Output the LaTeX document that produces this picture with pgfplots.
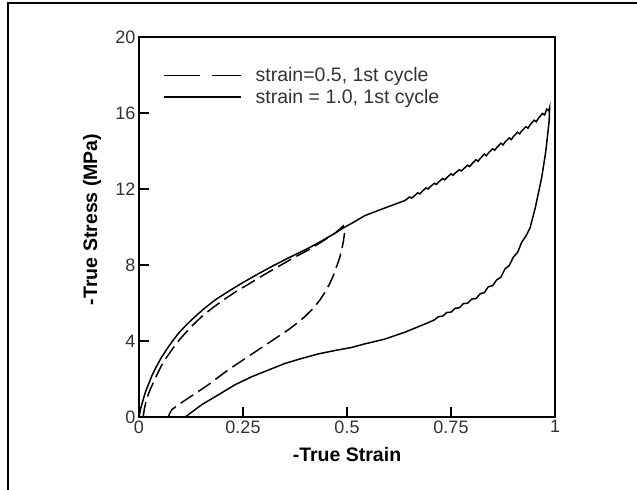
\documentclass[border=0pt]{standalone}
\usepackage{pgfplots}
\pgfplotsset{compat=1.18}
\usepackage{fontspec}
\setmainfont{Liberation Sans}
\begin{document}
\begin{tikzpicture}
\path[use as bounding box] (0,0) rectangle (637bp,490bp);
\draw[line width=2bp] (7.5bp,0) -- (7.5bp,487bp) -- (637bp,487bp);
\begin{axis}[
  at={(139bp,73bp)}, anchor=south west,
  scale only axis, width=416bp, height=380bp,
  xmin=0, xmax=1, ymin=0, ymax=20,
  xtick={0,0.25,0.5,0.75,1}, xticklabels={0,0.25,0.5,0.75,1},
  ytick={0,4,8,12,16,20},
  xtick pos=bottom, ytick pos=left,
  tick align=inside, major tick length=10bp,
  axis line style={line width=1.8bp},
  every tick/.style={line width=1.6bp, black},
  /pgf/number format/assume math mode=true,
  tick label style={font=\fontsize{18bp}{20bp}\selectfont, text=black!80},
  xlabel={\bfseries -True Strain},
  ylabel={\bfseries -True Stress (MPa)},
  label style={font=\fontsize{19.5bp}{22bp}\selectfont},
  xlabel style={at={(axis description cs:0.5,-0.1)}, anchor=center},
  ylabel style={at={(axis description cs:-0.113,0.52)}, anchor=center, rotate=0},
  legend style={at={(0.058,0.925)}, anchor=north west, draw=none, fill=none,
    font=\fontsize{19.5bp}{21bp}\selectfont, text=black!80, row sep=2bp,
    column sep=12bp, inner sep=0pt, outer sep=0pt},
  legend cell align=left,
  clip=false,
]
\addplot[black, line width=1.5bp, dash pattern=on 15bp off 6bp,
  legend image code/.code={\draw[black, line width=1.5bp, dash pattern=on 36bp off 12bp] (0bp,0bp) -- (77bp,0bp);}]
  coordinates {
(0.010,0.00) (0.013,0.45) (0.018,0.91) (0.025,1.35) (0.034,1.79) (0.043,2.22)
(0.053,2.66) (0.065,3.10) (0.079,3.54) (0.094,3.98) (0.111,4.41) (0.130,4.85)
(0.151,5.29) (0.176,5.73) (0.203,6.16) (0.233,6.60) (0.267,7.04) (0.300,7.48)
(0.335,7.92) (0.370,8.36) (0.407,8.79) (0.440,9.23) (0.471,9.67) (0.491,10.05)
(0.494,9.67) (0.491,9.20) (0.487,8.79) (0.482,8.35) (0.475,7.92) (0.468,7.48)
(0.459,7.04) (0.448,6.60) (0.435,6.16) (0.419,5.72) (0.399,5.29) (0.380,4.94)
(0.359,4.59) (0.335,4.24) (0.311,3.89) (0.287,3.54) (0.263,3.19) (0.239,2.84)
(0.215,2.49) (0.191,2.10) (0.167,1.70) (0.143,1.35) (0.119,1.00) (0.097,0.68)
(0.079,0.39) (0.073,0.15) (0.071,0.00)
};
\addlegendentry{strain=0.5, 1st cycle}
\addplot[black, line width=1.5bp,
  legend image code/.code={\draw[black, line width=1.5bp] (0bp,0bp) -- (77bp,0bp);}]
  coordinates {
(0.000,0.00) (0.004,0.45) (0.010,0.91) (0.016,1.35) (0.024,1.79) (0.032,2.22)
(0.042,2.66) (0.053,3.10) (0.066,3.54) (0.080,3.98) (0.095,4.41) (0.114,4.85)
(0.135,5.29) (0.158,5.73) (0.183,6.16) (0.214,6.60) (0.247,7.04) (0.282,7.48)
(0.319,7.92) (0.358,8.36) (0.399,8.79) (0.436,9.23) (0.471,9.67) (0.491,9.95)
(0.511,10.19) (0.543,10.60) (0.591,11.00) (0.640,11.40)
(0.65,11.58) (0.655,11.52) (0.66,11.60) (0.67,11.80) (0.675,11.74) (0.68,11.86)
(0.69,12.06) (0.695,12.00) (0.70,12.12) (0.71,12.30) (0.715,12.24) (0.72,12.36)
(0.73,12.55) (0.735,12.48) (0.74,12.60) (0.75,12.80) (0.755,12.72) (0.76,12.84)
(0.77,13.01) (0.775,12.95) (0.78,13.06) (0.79,13.25) (0.795,13.18) (0.80,13.32)
(0.81,13.54) (0.815,13.46) (0.82,13.60) (0.83,13.84) (0.835,13.75) (0.84,13.90)
(0.85,14.12) (0.855,14.04) (0.86,14.18) (0.87,14.41) (0.875,14.32) (0.88,14.47)
(0.89,14.69) (0.895,14.60) (0.90,14.76) (0.91,14.99) (0.915,14.90) (0.92,15.06)
(0.93,15.28) (0.935,15.20) (0.94,15.37) (0.95,15.62) (0.955,15.54) (0.96,15.72)
(0.97,15.98) (0.975,15.90) (0.98,16.20) (0.985,16.12) (0.987,16.28)
(0.986,15.60) (0.984,15.20) (0.978,14.00) (0.968,12.60) (0.953,11.05) (0.940,9.95)
(0.93,9.52) (0.92,9.20) (0.91,8.66) (0.90,8.42) (0.89,7.97) (0.88,7.80)
(0.87,7.36) (0.86,7.22) (0.85,6.91) (0.84,6.86) (0.83,6.55) (0.82,6.48)
(0.81,6.23) (0.80,6.21) (0.79,5.99) (0.78,5.97) (0.77,5.75) (0.76,5.72)
(0.75,5.52) (0.74,5.50) (0.73,5.31) (0.72,5.28) (0.71,5.11) (0.70,5.01)
(0.640,4.47) (0.591,4.10) (0.543,3.85) (0.511,3.66) (0.471,3.50) (0.431,3.32)
(0.391,3.08) (0.351,2.82) (0.311,2.47) (0.271,2.12) (0.231,1.70) (0.191,1.17)
(0.151,0.65) (0.111,0.00)
};
\addlegendentry{strain = 1.0, 1st cycle}
\end{axis}
\end{tikzpicture}
\end{document}
